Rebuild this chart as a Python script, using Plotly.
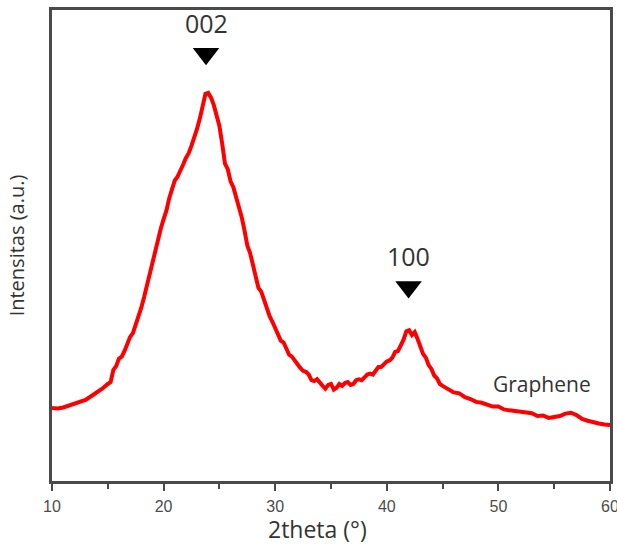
import plotly.graph_objects as go

# XRD pattern of graphene (2theta in degrees, intensity in arbitrary units)
two_theta = [
    10.0, 10.5, 11.0, 11.5, 12.0, 12.5, 13.0, 13.5, 14.0, 14.5,
    15.0, 15.25, 15.5, 15.75, 16.0, 16.25, 16.5, 16.75, 17.0, 17.25,
    17.5, 17.75, 18.0, 18.25, 18.5, 18.75, 19.0, 19.25, 19.5, 19.75,
    20.0, 20.25, 20.5, 20.75, 21.0, 21.25, 21.5, 21.75, 22.0, 22.25,
    22.5, 22.75, 23.0, 23.25, 23.5, 23.75, 24.0, 24.25, 24.5, 24.75,
    25.0, 25.25, 25.5, 25.75, 26.0, 26.25, 26.5, 26.75, 27.0, 27.25,
    27.5, 27.75, 28.0, 28.25, 28.5, 28.75, 29.0, 29.25, 29.5, 29.75,
    30.0, 30.25, 30.5, 30.75, 31.0, 31.25, 31.5, 31.75, 32.0, 32.25,
    32.5, 32.75, 33.0, 33.25, 33.5, 33.75, 34.0, 34.25, 34.5, 34.75,
    35.0, 35.25, 35.5, 35.75, 36.0, 36.25, 36.5, 36.75, 37.0, 37.25,
    37.5, 37.75, 38.0, 38.25, 38.5, 38.75, 39.0, 39.25, 39.5, 39.75,
    40.0, 40.25, 40.5, 40.75, 41.0, 41.25, 41.5, 41.75, 42.0, 42.25,
    42.5, 42.75, 43.0, 43.25, 43.5, 43.75, 44.0, 44.25, 44.5, 44.75,
    45.0, 45.25, 45.5, 45.75, 46.0, 46.5, 47.0, 47.5, 48.0, 48.5,
    49.0, 49.5, 50.0, 50.5, 51.0, 51.5, 52.0, 52.5, 53.0, 53.5,
    54.0, 54.5, 55.0, 55.5, 56.0, 56.5, 57.0, 57.5, 58.0, 58.5,
    59.0, 59.5, 60.0,
]
intensity = [
    15.5, 15.4, 15.6, 16.0, 16.2, 16.6, 17.2, 18.0, 18.7, 19.6,
    20.6, 21.0, 23.6, 24.4, 26.0, 26.4, 27.6, 29.4, 30.6, 31.4,
    33.2, 34.6, 36.8, 39.0, 41.5, 43.4, 46.6, 48.4, 51.0, 53.6,
    55.6, 57.4, 60.0, 61.6, 63.8, 64.6, 66.2, 67.2, 68.6, 69.6,
    71.2, 72.8, 74.8, 77.0, 79.6, 82.2, 82.4, 81.4, 79.8, 77.4,
    75.4, 71.6, 67.4, 66.2, 63.6, 62.4, 60.2, 58.6, 56.0, 53.2,
    50.0, 48.4, 45.6, 43.6, 41.0, 40.2, 38.4, 36.4, 35.0, 33.8,
    32.4, 31.0, 29.8, 29.4, 28.2, 26.8, 26.4, 25.4, 24.8, 24.0,
    23.4, 23.2, 22.6, 21.4, 21.2, 21.6, 20.8, 20.2, 19.6, 20.4,
    20.6, 19.4, 19.8, 20.6, 20.2, 20.8, 21.0, 20.4, 20.6, 21.4,
    21.6, 21.4, 22.0, 22.6, 22.8, 22.6, 23.4, 24.2, 24.2, 24.8,
    25.4, 25.6, 26.2, 27.4, 27.6, 28.8, 30.0, 31.8, 32.0, 31.0,
    31.6, 30.2, 28.4, 27.0, 26.2, 24.6, 23.8, 22.4, 21.8, 20.6,
    20.2, 19.8, 19.6, 19.0, 18.8, 18.6, 17.8, 17.4, 16.8, 16.6,
    16.2, 15.8, 15.8, 15.2, 15.0, 14.8, 14.6, 14.5, 14.4, 13.8,
    13.9, 13.4, 13.6, 13.8, 14.3, 14.5, 14.0, 13.2, 12.8, 12.4,
    12.2, 12.0, 11.9,
]

# Reflection markers (Miller indices)
peak_labels = ["002", "100"]
peak_pos = [23.8, 41.95]
peak_marker_y = [90.7, 41.2]

sample_name = "Graphene"

FONT = "Open Sans, sans-serif"
TEXT_COLOR = "#333333"
FRAME_COLOR = "#4a4a4a"

fig = go.Figure()

fig.add_trace(go.Scatter(
    x=two_theta, y=intensity, mode="lines",
    line=dict(color="#ff0000", width=4),
    showlegend=False, hoverinfo="skip",
))

fig.add_trace(go.Scatter(
    x=peak_pos, y=peak_marker_y, mode="markers",
    marker=dict(symbol="triangle-down", size=23, color="#000000"),
    showlegend=False, hoverinfo="skip",
))

for label, xp, yp in zip(peak_labels, peak_pos, peak_marker_y):
    fig.add_annotation(
        x=xp, y=yp, text=label, showarrow=False, yshift=31,
        font=dict(family=FONT, size=25, color=TEXT_COLOR),
    )

fig.add_annotation(
    x=53.9, y=20.6, text=sample_name, showarrow=False,
    font=dict(family=FONT, size=21, color=TEXT_COLOR),
)

# x-axis title, set slightly left of the axis centre
fig.add_annotation(
    xref="paper", yref="paper", x=0.475, y=-0.102, yanchor="middle",
    text="2theta (°)", showarrow=False,
    font=dict(family=FONT, size=23, color=TEXT_COLOR),
)

axis_line = dict(showline=True, linecolor=FRAME_COLOR, linewidth=2.5, mirror=True,
                 showgrid=False, zeroline=False, automargin=False)

fig.update_layout(
    width=617, height=544,
    margin=dict(l=52, r=7, t=10, b=63),
    paper_bgcolor="white", plot_bgcolor="white",
    xaxis=dict(
        range=[10, 60], tickvals=[10, 20, 30, 40, 50, 60],
        ticks="outside", ticklen=7, tickwidth=1.5, tickcolor=FRAME_COLOR,
        ticklabeloverflow="allow", ticklabelstandoff=2,
        minor=dict(tickvals=[15, 25, 35, 45, 55], ticks="outside",
                   ticklen=5, tickwidth=1.5, tickcolor=FRAME_COLOR),
        tickfont=dict(family="Liberation Sans, Arial, sans-serif",
                      size=16, color="#4d4d4d"),
        **axis_line,
    ),
    yaxis=dict(
        range=[0, 100], showticklabels=False, ticks="",
        title=dict(text="Intensitas (a.u.)", standoff=20,
                   font=dict(family=FONT, size=20, color=TEXT_COLOR)),
        **axis_line,
    ),
)

fig.write_html("out.html")
